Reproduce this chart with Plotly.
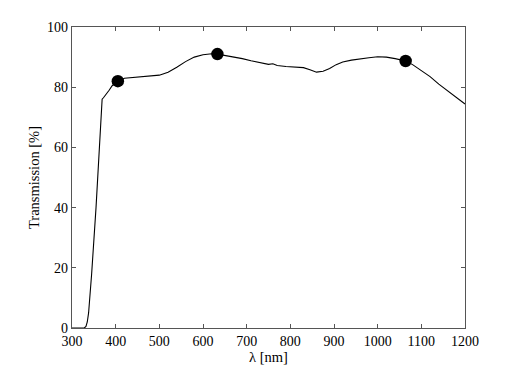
import plotly.graph_objects as go

wavelength = [300, 320, 328, 332, 335, 338, 345, 355, 362, 369, 372, 378, 385, 392, 400, 405,
              420, 440, 460, 480, 500, 520, 540, 560, 580, 600, 620, 633, 650, 670, 690, 710,
              730, 750, 760, 770, 790, 810, 830, 845, 860, 875, 890, 905, 920, 940, 960, 980,
              1000, 1020, 1040, 1064, 1080, 1100, 1120, 1140, 1160, 1180, 1200]
transmission = [0, 0, 0, 0.5, 2, 5, 18, 40, 58, 76, 76.5, 77.5, 79, 80.5, 81.5, 82,
                83, 83.3, 83.6, 83.8, 84, 85, 86.6, 88.5, 90, 90.8, 91.1, 91, 90.6, 90, 89.5, 88.8,
                88.2, 87.6, 87.8, 87.2, 86.9, 86.8, 86.5, 85.8, 85, 85.3, 86.2, 87.5, 88.4, 89, 89.5, 89.8,
                90.1, 90, 89.5, 88.7, 87.5, 85.6, 83.5, 81, 78.8, 76.6, 74.4]

marker_wl = [405, 633, 1064]
marker_t = [82, 91, 88.7]

xticks = [300, 400, 500, 600, 700, 800, 900, 1000, 1100, 1200]
yticks = [0, 20, 40, 60, 80, 100]

font = dict(family="Liberation Serif, DejaVu Serif, serif", size=14, color="black")
title_font = dict(family="Liberation Serif, DejaVu Serif, serif", size=14.5, color="black")

fig = go.Figure()
fig.add_trace(go.Scatter(x=wavelength, y=transmission, mode="lines",
                         line=dict(color="black", width=1.1), hoverinfo="skip"))
fig.add_trace(go.Scatter(x=marker_wl, y=marker_t, mode="markers",
                         marker=dict(color="black", size=12.5)))

axis_common = dict(showgrid=False, zeroline=False, showline=True, linecolor="#555",
                   linewidth=1.3, mirror="ticks", ticks="inside", ticklen=4,
                   tickcolor="#555", tickfont=font)

fig.update_xaxes(range=[300, 1200], tickvals=xticks, ticktext=[str(v) for v in xticks],
                 title=dict(text="λ [nm]", font=title_font, standoff=0), **axis_common)
fig.update_yaxes(range=[0, 100], tickvals=yticks, ticktext=[str(v) for v in yticks],
                 title=dict(text="Transmission [%]", font=title_font, standoff=3), **axis_common)

fig.update_layout(width=510, height=381, showlegend=False,
                  margin=dict(l=64, r=53, t=16, b=61),
                  paper_bgcolor="white", plot_bgcolor="white", font=font)

fig.write_html("out.html")
